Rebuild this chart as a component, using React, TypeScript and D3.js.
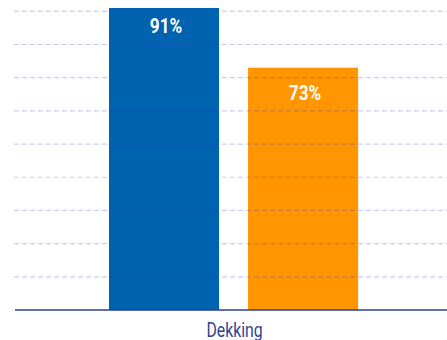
import React from "react";
import * as d3 from "d3";

const categories = ["Dekking"];
const seriesNames = ["A", "B"];
const seriesValues = [91, 73];
const seriesColors = ["#0063AF", "#FF9500"];
const yTicks = [10, 20, 30, 40, 50, 60, 70, 80, 90, 100];

const W = 447;
const H = 340;

export default function App() {
  const baseY = 310;
  const y = d3.scaleLinear().domain([0, 100]).range([baseY, baseY - 331.9]);
  const x1 = d3
    .scaleBand()
    .domain(seriesNames)
    .range([95.1, 372])
    .paddingInner(0.2086)
    .paddingOuter(0.1);
  const font = "Roboto, 'Liberation Sans', sans-serif";
  const labelOffsets = [25.5, 32];
  return (
    <svg
      width={W}
      height={H}
      style={{ position: "absolute", left: 0, top: 0, display: "block" }}
    >
      {categories.map((c) => (
        <g key={c}>
          {seriesValues.map((v, i) => {
            const bx = x1(seriesNames[i]) as number;
            const bw = x1.bandwidth();
            return (
              <rect key={i} x={bx} y={y(v)} width={bw} height={baseY - y(v)} fill={seriesColors[i]} />
            );
          })}
        </g>
      ))}
      {yTicks.map((t) => (
        <line
          key={t}
          x1={14}
          x2={W}
          y1={y(t)}
          y2={y(t)}
          stroke="#3a32c8"
          strokeOpacity={0.26}
          strokeWidth={1.2}
          strokeDasharray="5,3"
        />
      ))}
      {categories.map((c) => (
        <g key={"l" + c}>
          {seriesValues.map((v, i) => {
            const bx = x1(seriesNames[i]) as number;
            const bw = x1.bandwidth();
            const cx = bx + bw / 2 + 2;
            return (
              <text
                key={i}
                transform={`translate(${cx},${y(v) + labelOffsets[i]}) scale(0.86,1)`}
                textAnchor="middle"
                fill="#ffffff"
                fontFamily={font}
                fontWeight="bold"
                fontSize={20}
              >
                {v}%
              </text>
            );
          })}
          <text
            transform={`translate(234.5,336.7) scale(0.79,1)`}
            textAnchor="middle"
            fill="#2e4393"
            fontFamily={font}
            fontSize={20}
          >
            {c}
          </text>
        </g>
      ))}
      <line x1={15} x2={W} y1={baseY} y2={baseY} stroke="#2b3f9a" strokeWidth={1.5} />
    </svg>
  );
}
